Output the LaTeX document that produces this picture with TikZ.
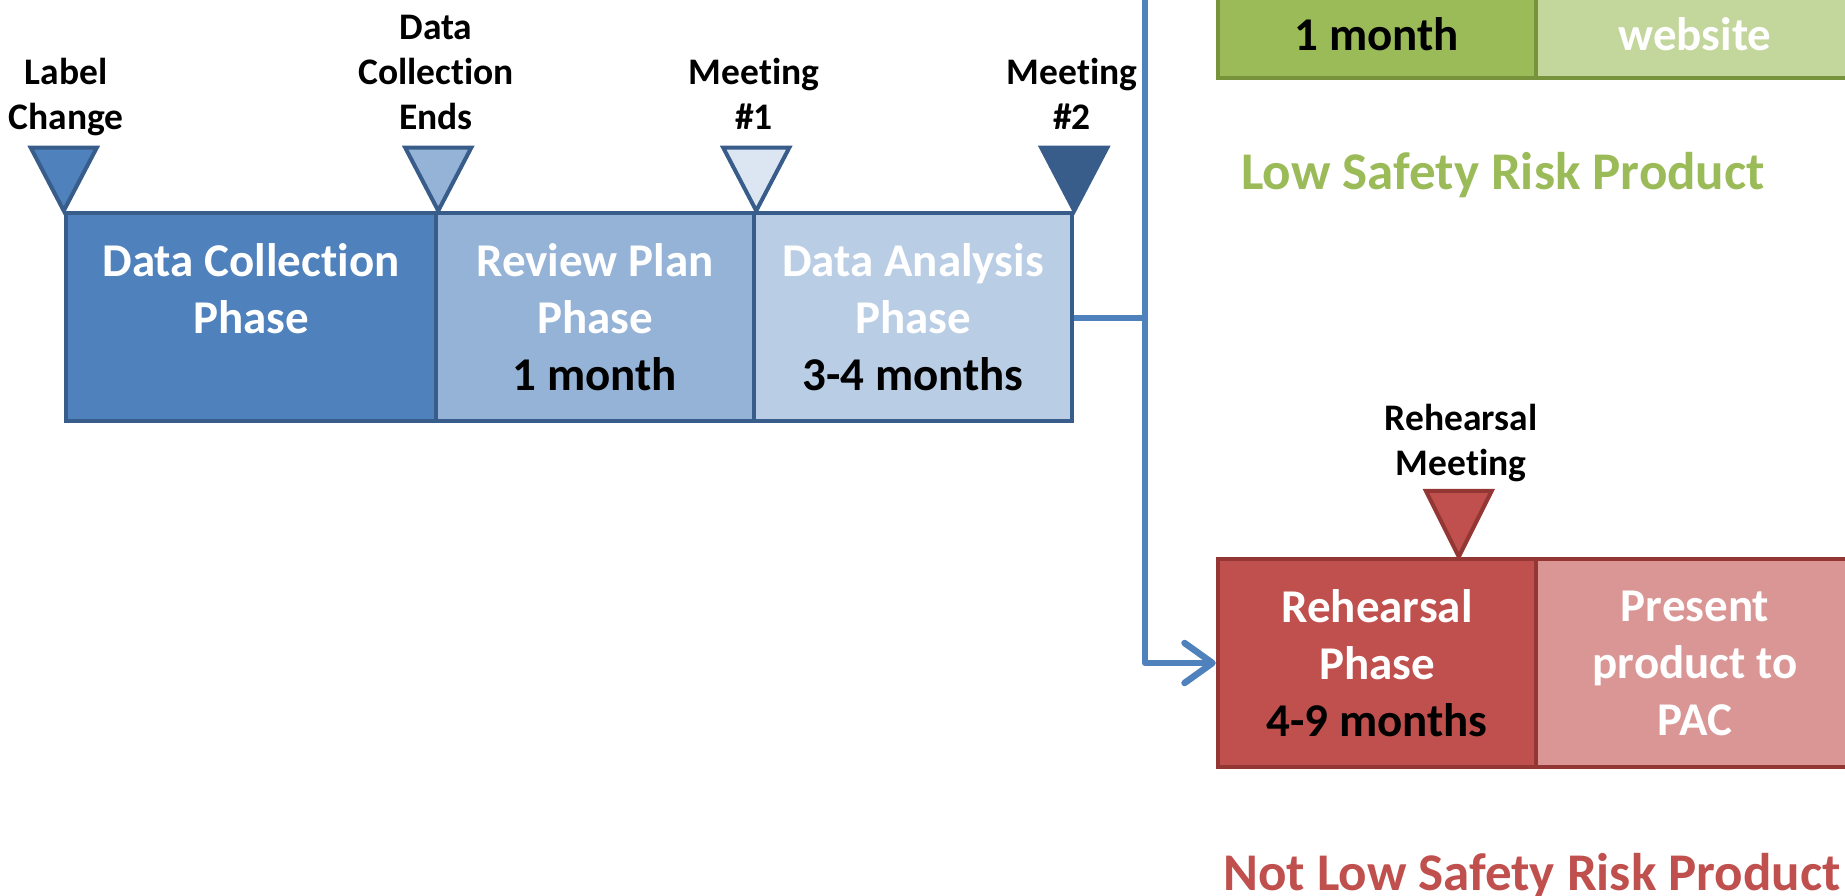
\documentclass[tikz,border=0pt]{standalone}
\usepackage{fontspec}
\setmainfont{Carlito}[Ligatures=NoCommon]
\usetikzlibrary{arrows.meta,calc}
\definecolor{blueA}{HTML}{4F81BD}
\definecolor{blueB}{HTML}{95B3D7}
\definecolor{blueC}{HTML}{B9CDE5}
\definecolor{blueD}{HTML}{DCE6F2}
\definecolor{blueE}{HTML}{385D8A}
\definecolor{greenA}{HTML}{9BBB59}
\definecolor{greenB}{HTML}{C3D69B}
\definecolor{greenE}{HTML}{77933C}
\definecolor{redA}{HTML}{C0504D}
\definecolor{redB}{HTML}{D99694}
\definecolor{redE}{HTML}{943634}
\begin{document}
\begin{tikzpicture}[x=1pt,y=-1pt,
  phase/.style={draw, line width=4.5pt, minimum width=318pt, minimum height=208pt,
    inner sep=0pt, align=center, text=white,
    font=\bfseries\fontsize{47}{57}\selectfont},
  bluephase/.style={phase, draw=blueE},
  greenphase/.style={phase, draw=greenE},
  redphase/.style={phase, draw=redE},
  phasetext/.style={inner sep=0pt, anchor=base, font=\bfseries\fontsize{47}{57}\selectfont},
  marker/.style={line width=4pt, line join=miter},
  mlabel/.style={font=\bfseries\fontsize{37.5}{45}\selectfont, align=center,
    inner sep=0pt, anchor=south, text depth=0pt},
  title/.style={font=\bfseries\fontsize{53}{64}\selectfont, inner sep=0pt},
  flow/.style={draw=blueA, line width=6.5pt, line join=round}
]
\useasboundingbox (0,0) rectangle (1845,896);
\clip (0,0) rectangle (1845,896);

% blue timeline
\node[bluephase, fill=blueA, minimum width=370pt] (dc) at (251,317)
  {Data Collection\\Phase\\\mbox{}};
\node[bluephase, fill=blueB] (rv) at (595,317)
  {Review Plan\\Phase\\\textcolor{black}{1 month}};
\node[bluephase, fill=blueC] (da) at (913,317)
  {Data Analysis\\Phase\\\textcolor{black}{3-4 months}};

% blue markers
\draw[marker, draw=blueE, fill=blueA] ($(dc.north west)+(-33,-63)$) -- ++(66,0) -- (dc.north west) -- cycle;
\draw[marker, draw=blueE, fill=blueB] ($(dc.north east)+(-33,-63)$) -- ++(66,0) -- (dc.north east) -- cycle;
\draw[marker, draw=blueE, fill=blueD] ($(rv.north east)+(-33,-63)$) -- ++(66,0) -- (rv.north east) -- cycle;
\draw[marker, draw=blueE, fill=blueE] ($(da.north east)+(-33,-63)$) -- ++(66,0) -- (da.north east) -- cycle;

\node[mlabel] (l1) at (66,130) {Label\\Change};
\node[mlabel] (l2) at (436,130) {Data\\Collection\\Ends};
\node[mlabel] (l3) at (754,130) {Meeting\\\#1};
\node[mlabel] (l4) at (1072,130) {Meeting\\\#2};

% green branch
\node[greenphase, fill=greenA] (g1) at (1377,-26) {};
\node[greenphase, fill=greenB] (g2) at (1695,-26) {};
\node[phasetext, text=black] (g1t) at ($(g1.south)+(0,-30)$) {1 month};
\node[phasetext, text=white] (g2t) at ($(g2.south)+(0,-30)$) {website};
\node[title, text=greenA, anchor=base] (lowt) at (1503,190) {Low Safety Risk Product};

% red branch
\node[redphase, fill=redA] (rp) at (1377,663)
  {Rehearsal\\Phase\\\textcolor{black}{4-9 months}};
\node[redphase, fill=redB] (pp) at (1695,663)
  {Present\\product to\\PAC};
\draw[marker, draw=redE, fill=redA] ($(rp.north west)+(243-33,-66)$) -- ++(66,0) -- ($(rp.north west)+(243,0)$) -- cycle;
\node[mlabel] (rm) at (1461,476) {Rehearsal\\Meeting};
\node[title, text=redA, anchor=base west] (nott) at (1223,890) {Not Low Safety Risk Product};

% connectors
\coordinate (trunktop) at (1145,-20);
\coordinate (branch) at (1145,318);
\draw[flow] (da.east |- branch) -- (branch);
\draw[flow, -{Straight Barb[length=28pt,width=40pt,round]}] (trunktop) |- (rp.west);
\end{tikzpicture}
\end{document}
